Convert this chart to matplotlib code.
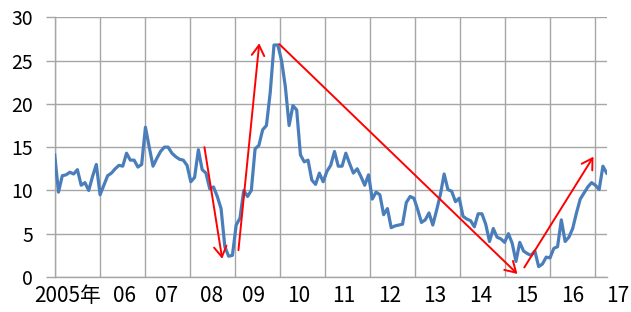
import matplotlib.pyplot as plt
import matplotlib.transforms as mtransforms
import numpy as np

plt.rcParams['font.family'] = ['Noto Sans CJK JP', 'DejaVu Sans']

# monthly values, 2005-01 .. 2017-03
values = [14.1, 9.8, 11.7, 11.8, 12.1, 11.9, 12.4, 10.6, 10.9, 10.0, 11.6, 13.0,
          9.5, 10.6, 11.7, 12.0, 12.5, 12.9, 12.8, 14.3, 13.5, 13.5, 12.7, 13.0,
          17.3, 15.0, 12.8, 13.7, 14.5, 15.0, 15.0, 14.3, 13.9, 13.6, 13.5, 12.9,
          11.0, 11.5, 14.7, 12.4, 12.0, 10.2, 10.4, 9.3, 7.9, 3.5, 2.4, 2.5,
          6.0, 6.8, 10.0, 9.3, 10.0, 14.8, 15.2, 17.0, 17.5, 21.3, 26.8, 26.8,
          25.0, 22.0, 17.5, 19.8, 19.3, 14.1, 13.3, 13.5, 11.2, 10.7, 12.0, 11.0,
          12.2, 12.9, 14.5, 12.8, 12.8, 14.3, 13.1, 12.0, 12.5, 11.6, 10.6, 11.8,
          9.0, 9.8, 9.5, 7.2, 7.9, 5.7, 5.9, 6.0, 6.1, 8.6, 9.3, 9.1,
          7.8, 6.3, 6.6, 7.4, 6.0, 7.7, 9.5, 11.9, 10.1, 9.9, 8.7, 9.1,
          7.0, 6.7, 6.5, 5.8, 7.3, 7.3, 6.1, 4.1, 5.6, 4.6, 4.4, 4.0,
          5.0, 3.9, 1.8, 4.0, 3.0, 2.7, 2.5, 3.0, 1.2, 1.5, 2.3, 2.2,
          3.3, 3.5, 6.6, 4.1, 4.6, 5.6, 7.4, 9.0, 9.7, 10.4, 10.9, 10.6,
          10.1, 12.8, 12.0]
year_labels = ['2005年', '06', '07', '08', '09', '10', '11', '12',
               '13', '14', '15', '16', '17']
label_pos = [3.5, 18.5, 29.6, 41.6, 52.7, 64.6, 76.5, 88.7,
             100.6, 112.8, 124.8, 137.0, 148.9]
# red trend arrows (x0, y0, x1, y1)
arrows = [(39.6, 15.0, 44.3, 2.1),
          (48.6, 3.1, 54.1, 27.0),
          (59.4, 26.9, 122.4, 0.35),
          (124.2, 1.1, 142.5, 13.9)]

months = np.arange(len(values))

fig = plt.figure(figsize=(6.31, 3.12), dpi=100)
ax = fig.add_axes([0.0867, 0.1122, 0.9615 - 0.0867, 0.9446 - 0.1122])

grid_col = '#a6a6a6'
ax.set_xlim(0, len(values) - 1)
ax.set_ylim(0, 30)
for gx in np.arange(13) * 11.9:
    ax.axvline(gx, color=grid_col, lw=1.0, zorder=1)
ax.set_yticks(np.arange(0, 31, 5))
ax.yaxis.grid(True, color=grid_col, lw=1.0)
ax.set_axisbelow(True)
ax.set_xticks([])

for s in ['top', 'right']:
    ax.spines[s].set_visible(False)
for s in ['left', 'bottom']:
    ax.spines[s].set_color(grid_col)
    ax.spines[s].set_linewidth(1.0)
ax.tick_params(axis='y', length=6.5, width=1.0, color=grid_col,
               labelsize=14, pad=9)

ax.plot(months, values, color='#4a7ebb', lw=2.3, zorder=3,
        solid_joinstyle='round')

trans = mtransforms.blended_transform_factory(ax.transData, ax.transAxes)
for lab, xp in zip(year_labels, label_pos):
    ax.text(xp, -0.03, lab, transform=trans, ha='center', va='top',
            fontsize=15)

for x0, y0, x1, y1 in arrows:
    ax.annotate('', xy=(x1, y1), xytext=(x0, y0),
                arrowprops=dict(arrowstyle='->,head_length=0.75,head_width=0.45',
                                color='red', lw=1.4, shrinkA=0, shrinkB=0),
                annotation_clip=False, zorder=4)

fig.savefig('out.png', dpi=100)
